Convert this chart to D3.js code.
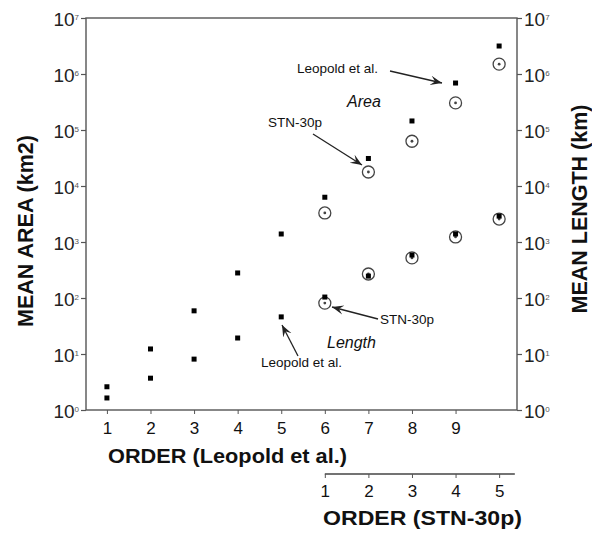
<!DOCTYPE html>
<html>
<head>
<meta charset="utf-8">
<script src="https://cdn.jsdelivr.net/npm/d3@7"></script>
<style>
  body { margin: 0; background: #fff; }
  text { font-family: Arial, "Liberation Sans", sans-serif; fill: #111; }
</style>
</head>
<body>
<div id="chart"></div>
<script>
// ---- data ----
const leopoldOrders = [1, 2, 3, 4, 5, 6, 7, 8, 9, 10];
const leopoldArea   = [2.6, 12.3, 59, 280, 1390, 6300, 31000, 145000, 690000, 3160000];
const leopoldLength = [1.64, 3.7, 8.1, 19.3, 46, 104, 246, 585, 1390, 2900];
const stnOrders     = [1, 2, 3, 4, 5];
const stnArea       = [3300, 17800, 63000, 305000, 1500000];
const stnLength     = [81, 268, 520, 1230, 2570];
const leopoldTicks  = [1, 2, 3, 4, 5, 6, 7, 8, 9];
const yTickExps     = [0, 1, 2, 3, 4, 5, 6, 7];

const width = 592, height = 534;
const margin = {top: 18, left: 86, right: 75, bottom: 124};
const innerW = width - margin.left - margin.right;
const innerH = height - margin.top - margin.bottom;

const svg = d3.select('#chart').append('svg')
  .attr('width', width).attr('height', height);

const x = d3.scaleLinear().domain([0.52, 10.41]).range([0, innerW]);
// STN-30p order 1 lines up with Leopold order 6
const x2 = d3.scaleLinear().domain([-4.48, 5.41]).range([0, innerW]);
const y = d3.scaleLog().domain([1, 1e7]).range([innerH, 0]);

const g = svg.append('g').attr('transform', `translate(${margin.left},${margin.top})`);

// frame
g.append('rect')
  .attr('width', innerW).attr('height', innerH)
  .style('fill', 'none').style('stroke', '#555').style('stroke-width', 1.4);

// power-of-ten label helper
function powLabel(sel) {
  sel.each(function(d) {
    const t = d3.select(this);
    t.text('');
    t.append('tspan').text('10').style('font-size', '19px').attr('fill', '#222');
    t.append('tspan').text(Math.log10(d).toFixed(0))
      .attr('dy', '-0.75em').style('font-size', '8px').attr('fill', '#555');
  });
}

const yTicks = yTickExps.map(e => Math.pow(10, e));

const yLeft = d3.axisLeft(y).tickValues(yTicks).tickSize(5).tickFormat('');
const yRight = d3.axisRight(y).tickValues(yTicks).tickSize(5).tickFormat('');

const gl = g.append('g').call(yLeft);
gl.select('.domain').remove();
gl.selectAll('.tick text').remove();
gl.selectAll('.tick line').attr('stroke', '#555').attr('stroke-width', 1.2);
gl.selectAll('.tick').append('text')
  .attr('x', -7).attr('y', 7).attr('text-anchor', 'end')
  .call(powLabel);

const gr = g.append('g').attr('transform', `translate(${innerW},0)`).call(yRight);
gr.select('.domain').remove();
gr.selectAll('.tick text').remove();
gr.selectAll('.tick line').attr('stroke', '#555').attr('stroke-width', 1.2);
gr.selectAll('.tick').append('text')
  .attr('x', 7).attr('y', 7).attr('text-anchor', 'start')
  .call(powLabel);

// bottom axis (Leopold)
const xb = d3.axisBottom(x).tickValues(leopoldTicks).tickSize(4).tickPadding(8);
const gb = g.append('g').attr('transform', `translate(0,${innerH})`).call(xb);
gb.select('.domain').remove();
gb.selectAll('.tick line').attr('stroke', '#555');
gb.selectAll('.tick text').style('font-size', '17px').style('font-family', 'Arial, sans-serif').attr('fill', '#222');

// second axis (STN-30p)
const axis2Y = 474 - margin.top;
g.append('line')
  .attr('x1', x2(1)).attr('x2', x2(5.36))
  .attr('y1', axis2Y).attr('y2', axis2Y)
  .style('stroke', '#444').style('stroke-width', 1.3);
const xs = d3.axisBottom(x2).tickValues(stnOrders).tickSize(4).tickPadding(7);
const gs = g.append('g').attr('transform', `translate(0,${axis2Y})`).call(xs);
gs.select('.domain').remove();
gs.selectAll('.tick line').attr('stroke', '#555');
gs.selectAll('.tick text').style('font-size', '17px').style('font-family', 'Arial, sans-serif').attr('fill', '#222');

// axis titles
svg.append('text')
  .attr('transform', `translate(33,231) rotate(-90)`)
  .attr('text-anchor', 'middle')
  .style('font-size', '21.5px').style('font-weight', 'bold')
  .text('MEAN AREA (km2)');
svg.append('text')
  .attr('transform', `translate(587,209) rotate(-90)`)
  .attr('text-anchor', 'middle')
  .style('font-size', '21.5px').style('font-weight', 'bold')
  .text('MEAN LENGTH (km)');
svg.append('text')
  .attr('x', 108).attr('y', 463)
  .attr('textLength', 239).attr('lengthAdjust', 'spacingAndGlyphs')
  .style('font-size', '20px').style('font-weight', 'bold')
  .text('ORDER (Leopold et al.)');
svg.append('text')
  .attr('x', 323).attr('y', 525)
  .attr('textLength', 199).attr('lengthAdjust', 'spacingAndGlyphs')
  .style('font-size', '20px').style('font-weight', 'bold')
  .text('ORDER (STN-30p)');

// markers
const sq = 5;
function squares(vals) {
  g.append('g').selectAll('rect').data(vals).join('rect')
    .attr('x', (d, i) => x(leopoldOrders[i]) - sq / 2)
    .attr('y', d => y(d) - sq / 2)
    .attr('width', sq).attr('height', sq)
    .style('fill', '#000');
}
function circles(vals) {
  const c = g.append('g').selectAll('g').data(vals).join('g')
    .attr('transform', (d, i) => `translate(${x2(stnOrders[i])},${y(d)})`);
  c.append('circle').attr('r', 6)
    .style('fill', 'none').style('stroke', '#444').style('stroke-width', 1.3);
  c.append('circle').attr('r', 1.4).style('fill', '#444');
}
circles(stnArea);
squares(leopoldArea);
circles(stnLength);
squares(leopoldLength);

// annotations
const defs = svg.append('defs');
defs.append('marker').attr('id', 'arr')
  .attr('viewBox', '0 0 10 10').attr('refX', 10).attr('refY', 5)
  .attr('markerWidth', 9).attr('markerHeight', 9).attr('orient', 'auto')
  .append('path').attr('d', 'M0,1 L10,5 L0,9 L4,5 Z').style('fill', '#222');

const ann = svg.append('g');
function label(txt, xx, yy, opts = {}) {
  ann.append('text').attr('x', xx).attr('y', yy)
    .style('font-size', opts.size || '13px')
    .style('font-style', opts.italic ? 'italic' : 'normal')
    .attr('fill', '#333')
    .text(txt);
}
function arrow(x1, y1, x2p, y2p) {
  ann.append('line')
    .attr('x1', x1).attr('y1', y1).attr('x2', x2p).attr('y2', y2p)
    .style('stroke', '#222').style('stroke-width', 1.3)
    .attr('marker-end', 'url(#arr)');
}
label('Leopold et al.', 297, 73, {size: '13.5px'});
arrow(390, 71, 442, 83);
label('Area', 347, 107, {size: '16px', italic: true});
label('STN-30p', 268, 127, {size: '13.5px'});
arrow(313, 134, 362, 165);
label('STN-30p', 380, 324, {size: '13.5px'});
arrow(378, 319, 332, 307);
label('Length', 327, 348, {size: '16px', italic: true});
label('Leopold et al.', 261, 367, {size: '13.5px'});
arrow(298, 356, 282, 325);
</script>
</body>
</html>
